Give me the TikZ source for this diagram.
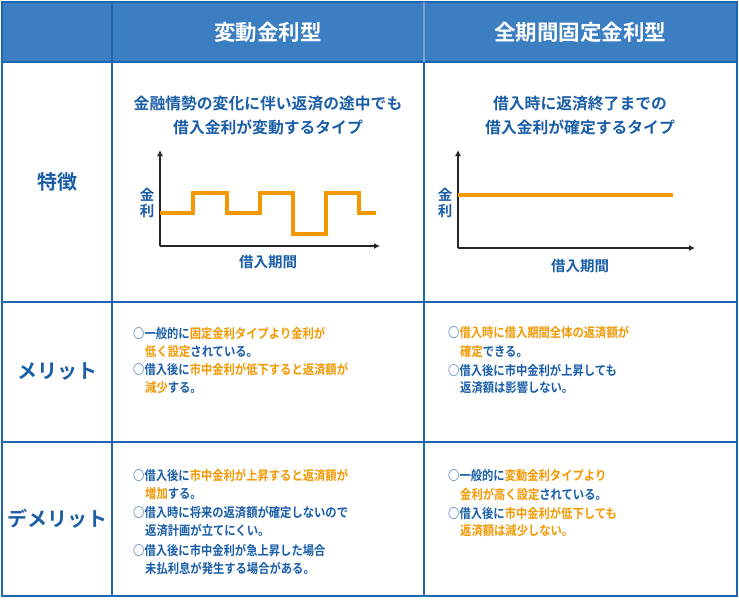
\documentclass[tikz,border=0pt]{standalone}
\usepackage{fontspec}
\usetikzlibrary{arrows.meta}
\setmainfont{Noto Sans CJK JP Bold}
\newfontfamily\bodyf[FakeStretch=0.87]{Noto Sans CJK JP Bold}
\definecolor{hd}{HTML}{3B7EC1}
\definecolor{ln}{HTML}{1F66B0}
\definecolor{tb}{HTML}{1A5EA8}
\definecolor{og}{HTML}{F39800}
\newcommand{\Org}[1]{\textcolor{og}{#1}}
\begin{document}
\begin{tikzpicture}[x=1pt,y=-1pt,
  grid/.style={draw=ln,line width=2pt},
  head/.style={text=white,font=\fontsize{21.5}{24}\selectfont},
  rowh/.style={text=tb,font=\fontsize{20}{24}\selectfont},
  ttl/.style={text=tb,font=\fontsize{15.8}{24}\selectfont,align=center},
  bl/.style={text=tb,font=\bodyf\fontsize{13}{18.5}\selectfont,anchor=west,inner sep=0},
  axis/.style={line width=2pt,draw=black!85,-{Latex[length=6pt,width=6pt]}},
  wave/.style={line width=4.5pt,draw=og},
  small/.style={text=tb,font=\fontsize{14.5}{16}\selectfont,align=center,inner sep=0}]
\useasboundingbox (0,0) rectangle (739,600);
\fill[white] (0,0) rectangle (739,600);
\fill[hd] (2,2) rectangle (737,62);
\draw[grid] (2,2) rectangle (737,596);
\draw[grid] (2,62) -- (737,62);
\draw[grid] (2,302) -- (737,302);
\draw[grid] (2,442) -- (737,442);
\draw[grid] (112,2) -- (112,596);
\draw[grid,draw=white!40!ln] (424,2) -- (424,62);
\draw[grid] (424,62) -- (424,596);
\node[head] (h1) at (268,32) {変動金利型};
\node[head] (h2) at (580,32) {全期間固定金利型};
\node[rowh] (r1) at (57,182) {特徴};
\node[rowh] (r2) at (57,372) {メリット};
\node[rowh] (r3) at (57,519) {デメリット};
\node[ttl] (t1) at (268,116) {金融情勢の変化に伴い返済の途中でも\\借入金利が変動するタイプ};
\node[ttl] (t2) at (580,116) {借入時に返済終了までの\\借入金利が確定するタイプ};
% graph 1
\coordinate (o1) at (160,246);
\coordinate (y1) at (160,150);
\coordinate (x1) at (380,246);
\draw[axis] (o1) -- (y1);
\draw[axis] (o1) -- (x1);
\draw[wave,line join=miter] (160,213) -- (193,213) -- (193,193) -- (227,193) -- (227,213) -- (260,213) -- (260,193) -- (293,193) -- (293,234) -- (326,234) -- (326,193) -- (359,193) -- (359,213) -- (376,213);
\node[small] (k1) at (147,203) {金\\利};
\node[small] (p1) at (268,262) {借入期間};
% graph 2
\coordinate (o2) at (458,248);
\coordinate (y2) at (458,150);
\coordinate (x2) at (695,248);
\draw[axis] (o2) -- (y2);
\draw[axis] (o2) -- (x2);
\draw[wave] (458,195) -- (673,195);
\node[small] (k2) at (445,203) {金\\利};
\node[small] (p2) at (580,266) {借入期間};
% merits
\node[bl] (m1) at (133,333) {○一般的に\Org{固定金利タイプより金利が}};
\node[bl] (m2) at (145,352) {\Org{低く設定}されている。};
\node[bl] (m3) at (133,370) {○借入後に\Org{市中金利が低下すると返済額が}};
\node[bl] (m4) at (145,388) {\Org{減少}する。};
\node[bl] (n1) at (448,333) {○\Org{借入時に借入期間全体の返済額が}};
\node[bl] (n2) at (460,352) {\Org{確定}できる。};
\node[bl] (n3) at (448,370) {○借入後に市中金利が上昇しても};
\node[bl] (n4) at (460,388) {返済額は影響しない。};
% demerits
\node[bl] (d1) at (133,476) {○借入後に\Org{市中金利が上昇すると返済額が}};
\node[bl] (d2) at (145,494) {\Org{増加}する。};
\node[bl] (d3) at (133,513) {○借入時に将来の返済額が確定しないので};
\node[bl] (d4) at (145,531) {返済計画が立てにくい。};
\node[bl] (d5) at (133,550) {○借入後に市中金利が急上昇した場合};
\node[bl] (d6) at (145,568) {未払利息が発生する場合がある。};
\node[bl] (e1) at (448,476) {○一般的に\Org{変動金利タイプより}};
\node[bl] (e2) at (460,494) {\Org{金利が高く設定}されている。};
\node[bl] (e3) at (448,513) {○借入後に\Org{市中金利が低下しても}};
\node[bl] (e4) at (460,531) {\Org{返済額は減少しない。}};
\end{tikzpicture}
\end{document}
